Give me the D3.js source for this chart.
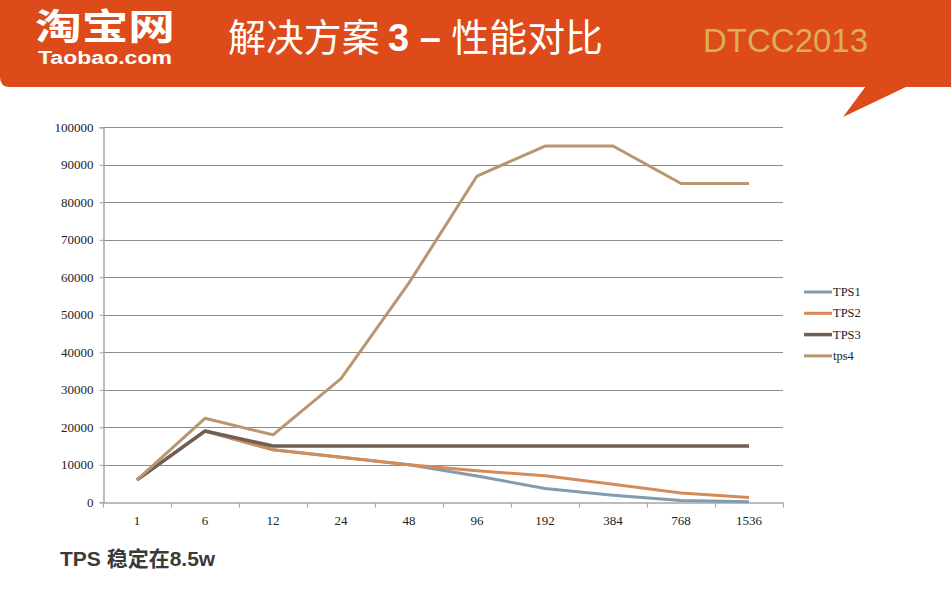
<!DOCTYPE html>
<meta charset="utf-8">
<style>
body { margin: 0; background: #fff; }
svg { display: block; }
.grid line { stroke: #8c8c8c; stroke-width: 1px; }
.line { fill: none; stroke-linejoin: round; }
</style>
<svg width="951" height="591"></svg>
<script src="https://cdn.jsdelivr.net/npm/d3@7"></script>
<script>
var categories = ["1", "6", "12", "24", "48", "96", "192", "384", "768", "1536"];
var tps1 = [6000, 19000, 14000, 12000, 10000, 7000, 3700, 1900, 500, 150];
var tps2 = [6000, 19000, 14000, 12000, 10000, 8400, 7100, 4800, 2500, 1300];
var tps3 = [6000, 19000, 15000, 15000, 15000, 15000, 15000, 15000, 15000, 15000];
var tps4 = [6000, 22400, 18000, 33000, 58500, 87000, 95000, 95000, 85000, 85000];
var seriesNames = ["TPS1", "TPS2", "TPS3", "tps4"];
var colors = ["#7f9cb1", "#d58a58", "#705f55", "#b99670"];
var yTicks = [0, 10000, 20000, 30000, 40000, 50000, 60000, 70000, 80000, 90000, 100000];

var svg = d3.select("svg");
var serif = "'Liberation Serif', 'DejaVu Serif', serif";

// header band
var orange = "#dd4b1a";
svg.append("path")
  .attr("d", "M0,0 H951 V87 H10 Q0,87 0,77 Z")
  .attr("fill", orange);
svg.append("path")
  .attr("d", "M866,86 L908,86 L843,117 Z")
  .attr("fill", orange);

svg.append("text")
  .attr("x", 35).attr("y", 40)
  .attr("font-family", "Noto Sans CJK SC")
  .attr("font-weight", "bold")
  .attr("font-size", 36)
  .attr("textLength", 140)
  .attr("lengthAdjust", "spacingAndGlyphs")
  .attr("fill", "#fff")
  .text("淘宝网");
svg.append("text")
  .attr("x", 38).attr("y", 64)
  .attr("font-family", "Liberation Sans, sans-serif")
  .attr("font-weight", "bold")
  .attr("font-size", 18)
  .attr("textLength", 134)
  .attr("lengthAdjust", "spacingAndGlyphs")
  .attr("fill", "#fff")
  .text("Taobao.com");

var title = svg.append("text")
  .attr("x", 228).attr("y", 51)
  .attr("font-family", "Noto Sans CJK SC")
  .attr("font-size", 38)
  .attr("textLength", 375)
  .attr("lengthAdjust", "spacingAndGlyphs")
  .attr("fill", "#fff");
title.append("tspan").text("解决方案 ");
title.append("tspan").attr("font-weight", "bold").attr("font-family", "Liberation Sans").text("3 – ");
title.append("tspan").text("性能对比");

svg.append("text")
  .attr("x", 703).attr("y", 52)
  .attr("font-family", "Liberation Sans, sans-serif")
  .attr("font-size", 33)
  .attr("fill", "#d8b055")
  .text("DTCC2013");

// chart
var x = d3.scaleBand().domain(categories).range([103, 783]).padding(0);
var y = d3.scaleLinear().domain([0, 100000]).range([502.3, 127.3]);

svg.append("g").attr("class", "grid")
  .selectAll("line")
  .data(yTicks.slice(1))
  .enter().append("line")
  .attr("x1", 103).attr("x2", 783)
  .attr("y1", function(d) { return Math.round(y(d)) + 0.5; })
  .attr("y2", function(d) { return Math.round(y(d)) + 0.5; });

var yAxis = svg.append("g")
  .attr("transform", "translate(103.5,0)")
  .call(d3.axisLeft(y).tickValues(yTicks).tickFormat(d3.format("d")).tickSize(4).tickPadding(6));
yAxis.select(".domain").attr("stroke", "#a6a6a6").attr("stroke-width", 1.5);
yAxis.selectAll(".tick line").attr("stroke", "#a6a6a6");

var xAxis = svg.append("g")
  .attr("transform", "translate(0,502.5)")
  .call(d3.axisBottom(x).tickSize(0).tickPadding(13));
xAxis.select(".domain").attr("stroke", "#a6a6a6").attr("stroke-width", 1.5);
xAxis.selectAll(".sep")
  .data(categories.concat(["end"]))
  .enter().append("line")
  .attr("x1", function(d, i) { return Math.round(103 + i * x.bandwidth()) + 0.5; })
  .attr("x2", function(d, i) { return Math.round(103 + i * x.bandwidth()) + 0.5; })
  .attr("y1", 0).attr("y2", 5)
  .attr("stroke", "#a6a6a6");

yAxis.attr("font-family", null).attr("font-size", null);
xAxis.attr("font-family", null).attr("font-size", null);
svg.selectAll(".tick text")
  .style("font-family", serif)
  .style("font-size", "13px")
  .attr("fill", "#222");

var allSeries = [tps1, tps2, tps3, tps4];
var line = d3.line()
  .x(function(d, i) { return x(categories[i]) + x.bandwidth() / 2; })
  .y(function(d) { return y(d); });

[0, 1, 2, 3].forEach(function(k) {
  svg.append("path")
    .attr("class", "line")
    .attr("d", line(allSeries[k]))
    .attr("stroke", colors[k])
    .attr("stroke-width", k == 2 ? 3.5 : 3);
});

// legend
var legend = svg.append("g").selectAll("g")
  .data(seriesNames)
  .enter().append("g")
  .attr("transform", function(d, i) { return "translate(804," + (292 + i * 21.3) + ")"; });
legend.append("line")
  .attr("x1", 0).attr("x2", 28)
  .attr("stroke", function(d, i) { return colors[i]; })
  .attr("stroke-width", function(d, i) { return i == 2 ? 3.5 : 3; });
legend.append("text")
  .attr("x", 29).attr("y", 4)
  .style("font-family", serif)
  .style("font-size", "12.5px")
  .attr("fill", "#222")
  .text(function(d) { return d; });

svg.append("text")
  .attr("x", 60).attr("y", 566)
  .attr("font-family", "Liberation Sans, Noto Sans CJK SC, sans-serif")
  .attr("font-weight", "bold")
  .attr("font-size", 21)
  .attr("fill", "#3a3a3a")
  .text("TPS 稳定在8.5w");
</script>
